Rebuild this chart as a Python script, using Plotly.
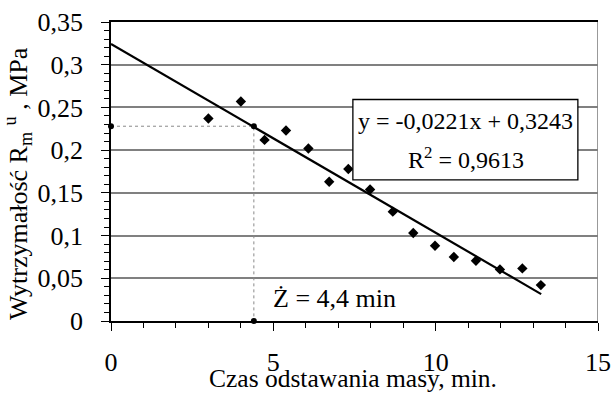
import plotly.graph_objects as go

# ---- data ----
time_min = [3.0, 4.0, 4.73, 5.39, 6.08, 6.72, 7.31, 7.98, 8.68, 9.31, 9.98, 10.56, 11.24, 11.98, 12.67, 13.24]
strength = [0.237, 0.257, 0.212, 0.223, 0.202, 0.163, 0.178, 0.154, 0.128, 0.103, 0.088, 0.075, 0.0705, 0.0604, 0.0616, 0.042]

slope = -0.0221
intercept = 0.3243
r2_text = "0,9613"
trend_x = [0.0, 13.25]
trend_y = [slope * x + intercept for x in trend_x]

z_time = 4.4
z_strength = 0.228
guide_x = [0.0, z_time, z_time]
guide_y = [z_strength, z_strength, 0.0]

x_tickvals = [0, 5, 10, 15]
x_ticklabels = ["0", "5", "10", "15"]
y_tickvals = [0, 0.05, 0.1, 0.15, 0.2, 0.25, 0.3, 0.35]
y_ticklabels = ["0", "0,05", "0,1", "0,15", "0,2", "0,25", "0,3", "0,35"]

eq_text = "y = -0,0221x + 0,3243"
r2_label = "R<sup>2</sup> = " + r2_text
z_label = "Ż = 4,4 min"
x_title = "Czas odstawania masy, min."
y_title = "Wytrzymałość R<sub>m</sub> <sup>u</sup> , MPa"

FONT = "Liberation Serif"

fig = go.Figure()

# dotted guide lines
fig.add_trace(go.Scatter(
    x=guide_x, y=guide_y, mode="lines",
    line=dict(color="#8a8a8a", width=1, dash="dot"),
    hoverinfo="skip", cliponaxis=False, showlegend=False))

# data points
fig.add_trace(go.Scatter(
    x=time_min, y=strength, mode="markers",
    marker=dict(symbol="diamond", size=8, color="black"),
    cliponaxis=False, showlegend=False))

# trend line
fig.add_trace(go.Scatter(
    x=trend_x, y=trend_y, mode="lines",
    line=dict(color="black", width=2.2),
    showlegend=False))

# guide circle markers
fig.add_trace(go.Scatter(
    x=guide_x, y=guide_y, mode="markers",
    marker=dict(symbol="circle", size=6, color="black"),
    cliponaxis=False, showlegend=False))

fig.update_layout(
    width=612, height=393, autosize=False,
    margin=dict(l=111, r=14, t=22, b=72),
    paper_bgcolor="white", plot_bgcolor="white",
    font=dict(family=FONT, size=24, color="black"),
    separators=", ",
    showlegend=False,
)

fig.update_xaxes(
    range=[0, 15], tickvals=x_tickvals, ticktext=x_ticklabels,
    ticks="outside", ticklen=8, tickwidth=1.2, tickcolor="black",
    minor=dict(tickmode="linear", tick0=0, dtick=1, ticks="outside", ticklen=5,
               tickwidth=1.2, tickcolor="black", showgrid=False),
    showgrid=False, zeroline=False, automargin=False,
    showline=True, linecolor="black", linewidth=1.6, mirror=True,
    ticklabelstandoff=9,
    tickfont=dict(family=FONT, size=26),
)

fig.update_yaxes(
    range=[0, 0.35], tickvals=y_tickvals, ticktext=y_ticklabels,
    ticks="outside", ticklen=8, tickwidth=1.2, tickcolor="black",
    minor=dict(tickmode="linear", tick0=0, dtick=0.01, ticks="outside", ticklen=5,
               tickwidth=1.2, tickcolor="black", showgrid=False),
    showgrid=True, gridcolor="#808080", gridwidth=1.5, zeroline=False, automargin=False,
    showline=True, linecolor="black", linewidth=1.6,
    ticklabelstandoff=13,
    tickfont=dict(family=FONT, size=26),
)

# right border (gray)
fig.add_shape(type="line", xref="x", yref="y", x0=15, x1=15, y0=0, y1=0.35,
              line=dict(color="#808080", width=1.6))

# equation box
fig.add_shape(type="rect", xref="x", yref="y", x0=7.45, x1=14.38, y0=0.1653, y1=0.2593,
              fillcolor="white", line=dict(color="black", width=1.3), layer="above")
fig.add_annotation(x=10.92, y=0.2338, xref="x", yref="y", text=eq_text, showarrow=False,
                   font=dict(family=FONT, size=24), xanchor="center", yanchor="middle")
fig.add_annotation(x=10.92, y=0.1912, xref="x", yref="y", text=r2_label, showarrow=False,
                   font=dict(family=FONT, size=24), xanchor="center", yanchor="middle")

# Z annotation
fig.add_annotation(x=6.87, y=0.0267, xref="x", yref="y", text=z_label, showarrow=False,
                   font=dict(family=FONT, size=26), xanchor="center", yanchor="middle")

# axis titles
fig.add_annotation(x=-0.19, y=0.46, xref="paper", yref="paper", text=y_title, showarrow=False,
                   textangle=-90, font=dict(family=FONT, size=26), xanchor="center", yanchor="middle")
fig.add_annotation(x=0.497, y=-0.192, xref="paper", yref="paper", text=x_title, showarrow=False,
                   font=dict(family=FONT, size=25.5), xanchor="center", yanchor="middle")

fig.write_html(
    "out.html",
    config={"displayModeBar": False, "responsive": False},
    post_script="document.body.style.margin='0px';document.body.style.overflow='hidden';",
)
